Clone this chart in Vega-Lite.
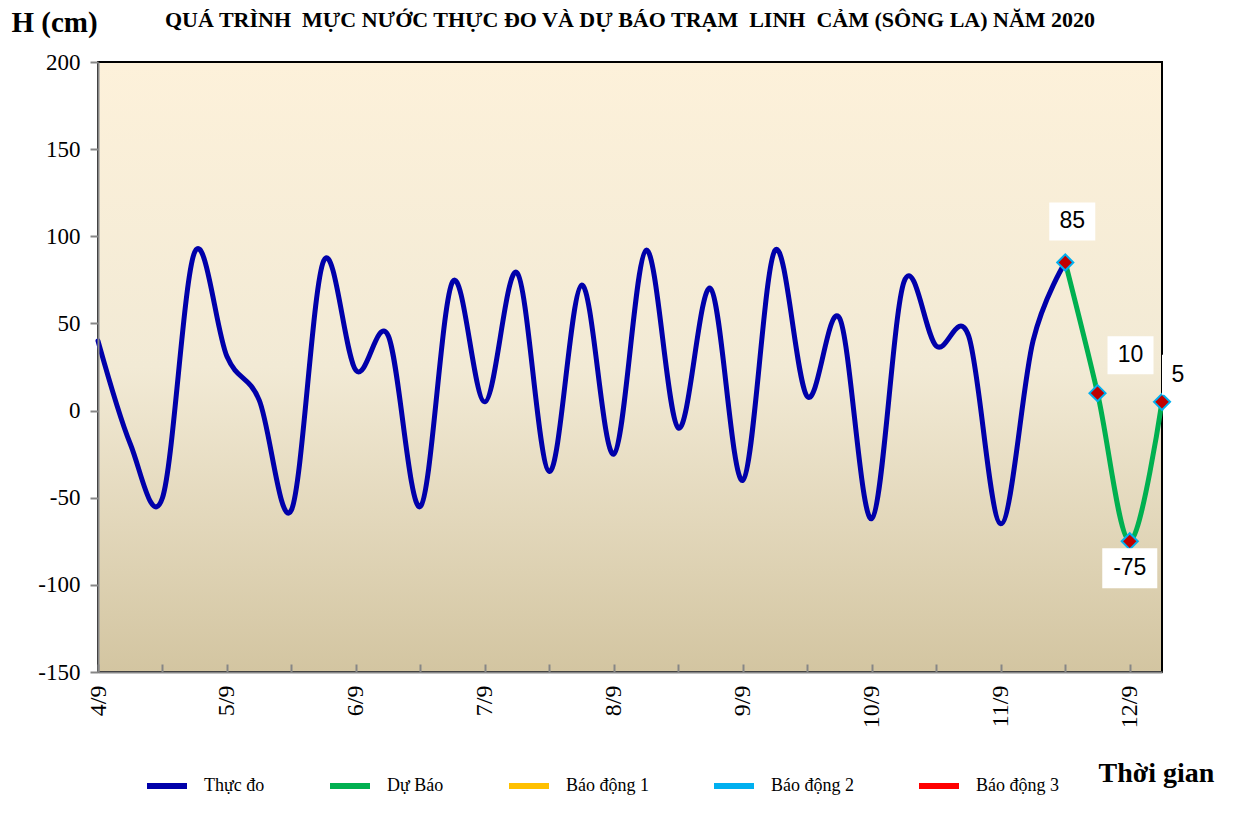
{
  "$schema": "https://vega.github.io/schema/vega-lite/v6.json",
  "width": 1064,
  "height": 610,
  "autosize": {"type": "none"},
  "padding": {"left": 98, "top": 62, "right": 76, "bottom": 153},
  "background": "white",
  "config": {"view": {"stroke": null}, "font": "Liberation Serif"},
  "title": {
    "text": "QUÁ TRÌNH \u00a0MỰC NƯỚC THỰC ĐO VÀ DỰ BÁO TRẠM \u00a0LINH \u00a0CẢM (SÔNG LA) NĂM 2020",
    "font": "Liberation Serif",
    "fontSize": 22,
    "fontWeight": "bold",
    "color": "#000",
    "anchor": "middle",
    "frame": "group",
    "offset": 0,
    "dy": 24
  },
  "datasets": {
    "water": [
      {"t": "2020-09-04T00:00", "h": 40, "s": "Thực đo"},
      {"t": "2020-09-04T06:00", "h": -19, "s": "Thực đo"},
      {"t": "2020-09-04T12:00", "h": -50, "s": "Thực đo"},
      {"t": "2020-09-04T18:00", "h": 91, "s": "Thực đo"},
      {"t": "2020-09-05T00:00", "h": 31, "s": "Thực đo"},
      {"t": "2020-09-05T06:00", "h": 6, "s": "Thực đo"},
      {"t": "2020-09-05T12:00", "h": -57, "s": "Thực đo"},
      {"t": "2020-09-05T18:00", "h": 86, "s": "Thực đo"},
      {"t": "2020-09-06T00:00", "h": 23, "s": "Thực đo"},
      {"t": "2020-09-06T06:00", "h": 43, "s": "Thực đo"},
      {"t": "2020-09-06T12:00", "h": -55, "s": "Thực đo"},
      {"t": "2020-09-06T18:00", "h": 74, "s": "Thực đo"},
      {"t": "2020-09-07T00:00", "h": 5, "s": "Thực đo"},
      {"t": "2020-09-07T06:00", "h": 79, "s": "Thực đo"},
      {"t": "2020-09-07T12:00", "h": -35, "s": "Thực đo"},
      {"t": "2020-09-07T18:00", "h": 72, "s": "Thực đo"},
      {"t": "2020-09-08T00:00", "h": -25, "s": "Thực đo"},
      {"t": "2020-09-08T06:00", "h": 92, "s": "Thực đo"},
      {"t": "2020-09-08T12:00", "h": -10, "s": "Thực đo"},
      {"t": "2020-09-08T18:00", "h": 70, "s": "Thực đo"},
      {"t": "2020-09-09T00:00", "h": -40, "s": "Thực đo"},
      {"t": "2020-09-09T06:00", "h": 92, "s": "Thực đo"},
      {"t": "2020-09-09T12:00", "h": 8, "s": "Thực đo"},
      {"t": "2020-09-09T18:00", "h": 53, "s": "Thực đo"},
      {"t": "2020-09-10T00:00", "h": -62, "s": "Thực đo"},
      {"t": "2020-09-10T06:00", "h": 74, "s": "Thực đo"},
      {"t": "2020-09-10T12:00", "h": 37, "s": "Thực đo"},
      {"t": "2020-09-10T18:00", "h": 43, "s": "Thực đo"},
      {"t": "2020-09-11T00:00", "h": -65, "s": "Thực đo"},
      {"t": "2020-09-11T06:00", "h": 40, "s": "Thực đo"},
      {"t": "2020-09-11T12:00", "h": 85, "s": "Thực đo"},
      {"t": "2020-09-11T12:00", "h": 85, "s": "Dự Báo"},
      {"t": "2020-09-11T18:00", "h": 10, "s": "Dự Báo"},
      {"t": "2020-09-12T00:00", "h": -75, "s": "Dự Báo"},
      {"t": "2020-09-12T06:00", "h": 5, "s": "Dự Báo"}
    ]
  },
  "layer": [
    {
      "data": {"values": [{}]},
      "mark": {
        "type": "rect",
        "fill": {
          "gradient": "linear", "x1": 0, "y1": 0, "x2": 0, "y2": 1,
          "stops": [
            {"offset": 0, "color": "#FDF1DA"},
            {"offset": 0.5, "color": "#F2EAD5"},
            {"offset": 1, "color": "#D3C5A1"}
          ]
        },
        "stroke": "#000",
        "strokeWidth": 2
      },
      "encoding": {
        "y": {"datum": 200, "type": "quantitative"},
        "y2": {"datum": -150}
      }
    },
    {
      "data": {"name": "water"},
      "mark": {"type": "line", "interpolate": "cardinal", "tension": 0, "strokeWidth": 5, "strokeJoin": "round", "strokeCap": "round"},
      "encoding": {
        "x": {
          "field": "t", "type": "temporal",
          "scale": {"domain": [{"year": 2020, "month": 9, "date": 4, "hours": 0}, {"year": 2020, "month": 9, "date": 12, "hours": 6}], "nice": false},
          "axis": {
            "title": "Thời gian",
            "titleFont": "Liberation Serif", "titleFontSize": 28, "titleFontWeight": "bold", "titleColor": "#000",
            "titleX": 1000, "titleY": 101, "titleAlign": "left", "titleBaseline": "middle", "titleAngle": 0,
            "values": [
              {"year": 2020, "month": 9, "date": 4, "hours": 0}, {"year": 2020, "month": 9, "date": 4, "hours": 6}, {"year": 2020, "month": 9, "date": 4, "hours": 12}, {"year": 2020, "month": 9, "date": 4, "hours": 18},
              {"year": 2020, "month": 9, "date": 5, "hours": 0}, {"year": 2020, "month": 9, "date": 5, "hours": 6}, {"year": 2020, "month": 9, "date": 5, "hours": 12}, {"year": 2020, "month": 9, "date": 5, "hours": 18},
              {"year": 2020, "month": 9, "date": 6, "hours": 0}, {"year": 2020, "month": 9, "date": 6, "hours": 6}, {"year": 2020, "month": 9, "date": 6, "hours": 12}, {"year": 2020, "month": 9, "date": 6, "hours": 18},
              {"year": 2020, "month": 9, "date": 7, "hours": 0}, {"year": 2020, "month": 9, "date": 7, "hours": 6}, {"year": 2020, "month": 9, "date": 7, "hours": 12}, {"year": 2020, "month": 9, "date": 7, "hours": 18},
              {"year": 2020, "month": 9, "date": 8, "hours": 0}, {"year": 2020, "month": 9, "date": 8, "hours": 6}, {"year": 2020, "month": 9, "date": 8, "hours": 12}, {"year": 2020, "month": 9, "date": 8, "hours": 18},
              {"year": 2020, "month": 9, "date": 9, "hours": 0}, {"year": 2020, "month": 9, "date": 9, "hours": 6}, {"year": 2020, "month": 9, "date": 9, "hours": 12}, {"year": 2020, "month": 9, "date": 9, "hours": 18},
              {"year": 2020, "month": 9, "date": 10, "hours": 0}, {"year": 2020, "month": 9, "date": 10, "hours": 6}, {"year": 2020, "month": 9, "date": 10, "hours": 12}, {"year": 2020, "month": 9, "date": 10, "hours": 18},
              {"year": 2020, "month": 9, "date": 11, "hours": 0}, {"year": 2020, "month": 9, "date": 11, "hours": 6}, {"year": 2020, "month": 9, "date": 11, "hours": 12}, {"year": 2020, "month": 9, "date": 11, "hours": 18},
              {"year": 2020, "month": 9, "date": 12, "hours": 0}, {"year": 2020, "month": 9, "date": 12, "hours": 6}
            ],
            "labelExpr": "hours(datum.value) == 0 ? date(datum.value) + '/' + (month(datum.value) + 1) : ''",
            "labelAngle": 270, "labelAlign": "right", "labelBaseline": "middle",
            "labelFont": "Liberation Serif", "labelFontSize": 24, "labelColor": "#000",
            "labelPadding": 21, "labelOverlap": false, "labelFlush": false,
            "tickSize": -8, "tickColor": "#868686", "tickWidth": 2,
            "domainColor": "#868686", "domainWidth": 2, "grid": false, "zindex": 1
          }
        },
        "y": {
          "field": "h", "type": "quantitative",
          "scale": {"domain": [-150, 200], "nice": false, "zero": false},
          "axis": {
            "title": "H (cm)",
            "titleFont": "Liberation Serif", "titleFontSize": 29, "titleFontWeight": "bold", "titleColor": "#000",
            "titleAngle": 0, "titleX": -87, "titleY": -40, "titleAlign": "left", "titleBaseline": "middle",
            "values": [-150, -100, -50, 0, 50, 100, 150, 200],
            "labelExpr": "'' + datum.value",
            "labelFont": "Liberation Serif", "labelFontSize": 23, "labelColor": "#000",
            "labelPadding": 10, "tickSize": 8, "tickColor": "#868686", "tickWidth": 2,
            "domainColor": "#868686", "domainWidth": 2, "grid": false, "zindex": 1
          }
        },
        "color": {
          "field": "s", "type": "nominal",
          "scale": {
            "domain": ["Thực đo", "Dự Báo", "Báo động 1", "Báo động 2", "Báo động 3"],
            "range": ["#0000AA", "#00B050", "#FFC000", "#00B0F0", "#FF0000"]
          },
          "legend": {
            "orient": "none", "legendX": 46, "legendY": 701, "direction": "horizontal",
            "title": null, "symbolType": "stroke", "symbolSize": 1600, "symbolStrokeWidth": 6,
            "labelFont": "Liberation Serif", "labelFontSize": 18, "labelColor": "#000",
            "labelOffset": 14, "columnPadding": 53
          }
        }
      }
    },
    {
      "data": {"name": "water"},
      "transform": [{"filter": "datum.s == 'Dự Báo'"}],
      "mark": {"type": "point", "shape": "diamond", "filled": true, "fill": "#C00000", "stroke": "#00B0F0", "strokeWidth": 2, "size": 260, "opacity": 1},
      "encoding": {
        "x": {"field": "t", "type": "temporal"},
        "y": {"field": "h", "type": "quantitative"}
      }
    },
    {
      "data": {"name": "water"},
      "transform": [{"filter": "datum.s == 'Dự Báo' && datum.h == 85"}],
      "encoding": {
        "x": {"field": "t", "type": "temporal"},
        "y": {"field": "h", "type": "quantitative"}
      },
      "layer": [
        {"mark": {"type": "point", "shape": "M-1.15,-0.95L1.15,-0.95L1.15,0.95L-1.15,0.95Z", "size": 1600, "filled": true, "fill": "white", "opacity": 1, "strokeWidth": 0, "xOffset": 7, "yOffset": -41}},
        {"mark": {"type": "text", "font": "Liberation Sans", "fontSize": 23, "color": "#000", "dx": 7, "dy": -41, "baseline": "middle", "align": "center"}, "encoding": {"text": {"field": "h", "type": "nominal"}}}
      ]
    },
    {
      "data": {"name": "water"},
      "transform": [{"filter": "datum.s == 'Dự Báo' && datum.h == 10"}],
      "encoding": {
        "x": {"field": "t", "type": "temporal"},
        "y": {"field": "h", "type": "quantitative"}
      },
      "layer": [
        {"mark": {"type": "point", "shape": "M-1.15,-0.95L1.15,-0.95L1.15,0.95L-1.15,0.95Z", "size": 1600, "filled": true, "fill": "white", "opacity": 1, "strokeWidth": 0, "xOffset": 33, "yOffset": -38}},
        {"mark": {"type": "text", "font": "Liberation Sans", "fontSize": 23, "color": "#000", "dx": 33, "dy": -38, "baseline": "middle", "align": "center"}, "encoding": {"text": {"field": "h", "type": "nominal"}}}
      ]
    },
    {
      "data": {"name": "water"},
      "transform": [{"filter": "datum.s == 'Dự Báo' && datum.h == -75"}],
      "encoding": {
        "x": {"field": "t", "type": "temporal"},
        "y": {"field": "h", "type": "quantitative"}
      },
      "layer": [
        {"mark": {"type": "point", "shape": "M-1.375,-1L1.375,-1L1.375,1L-1.375,1Z", "size": 1600, "filled": true, "fill": "white", "opacity": 1, "strokeWidth": 0, "xOffset": 0, "yOffset": 27}},
        {"mark": {"type": "text", "font": "Liberation Sans", "fontSize": 23, "color": "#000", "dx": 0, "dy": 27, "baseline": "middle", "align": "center"}, "encoding": {"text": {"field": "h", "type": "nominal"}}}
      ]
    },
    {
      "data": {"name": "water"},
      "transform": [{"filter": "datum.s == 'Dự Báo' && datum.h == 5"}],
      "encoding": {
        "x": {"field": "t", "type": "temporal"},
        "y": {"field": "h", "type": "quantitative"}
      },
      "layer": [
        {"mark": {"type": "point", "shape": "M-0.8,-1L0.8,-1L0.8,1L-0.8,1Z", "size": 1600, "filled": true, "fill": "white", "opacity": 1, "strokeWidth": 0, "xOffset": 16, "yOffset": -27}},
        {"mark": {"type": "text", "font": "Liberation Sans", "fontSize": 23, "color": "#000", "dx": 16, "dy": -27, "baseline": "middle", "align": "center"}, "encoding": {"text": {"field": "h", "type": "nominal"}}}
      ]
    }
  ]
}
